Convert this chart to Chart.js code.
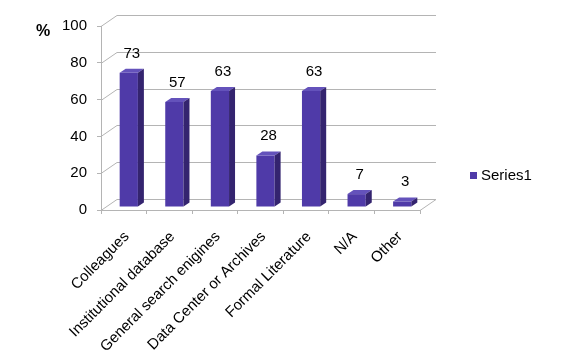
<!DOCTYPE html>
<html>
<head>
<meta charset="utf-8">
<script src="https://cdn.jsdelivr.net/npm/chart.js@4"></script>
<style>
    html, body { margin: 0; padding: 0; background: #fff; }
    #wrap { width: 570px; height: 355px; }
</style>
</head>
<body>
<div id="wrap"><canvas id="sourcesChart" width="570" height="355"></canvas></div>
<script>
// Chart data
const categories = ['Colleagues', 'Institutional database', 'General search enigines',
    'Data Center or Archives', 'Formal Literature', 'N/A', 'Other'];
const series1 = [73, 57, 63, 28, 63, 7, 3];
const seriesName = 'Series1';
const yTicks = [0, 20, 40, 60, 80, 100];

// 3D look
const wallDx = 16, wallDy = -11;   // back wall offset
const barDx = 5, barDy = -3;       // bars sit a bit behind the front edge
const faceDx = 6, faceDy = -4;     // bar depth
const frontColor = '#4f3aa8';
const topColor = '#6452bb';
const sideColor = '#34246f';
const gridColor = '#b4b4b4';
const fontFamily = '"Liberation Sans", Arial, sans-serif';

// Back wall, left wall and floor lines
const wallPlugin = {
    id: 'wall',
    beforeDatasetsDraw(chart) {
        const ctx = chart.ctx;
        const area = chart.chartArea;
        const y = chart.scales.y;
        ctx.save();
        ctx.strokeStyle = gridColor;
        ctx.lineWidth = 1;
        yTicks.forEach(function(v) {
            const py = Math.round(y.getPixelForValue(v)) + 0.5;
            ctx.beginPath();
            ctx.moveTo(area.left, py);
            ctx.lineTo(area.left + wallDx, py + wallDy);
            ctx.lineTo(area.right + wallDx, py + wallDy);
            ctx.stroke();
        });
        // floor right edge
        const py0 = Math.round(y.getPixelForValue(0)) + 0.5;
        ctx.beginPath();
        ctx.moveTo(area.right, py0);
        ctx.lineTo(area.right + wallDx, py0 + wallDy);
        ctx.stroke();
        ctx.restore();
    }
};

// Shift the bars, add top and side faces, value labels
const barsPlugin = {
    id: 'bars3d',
    beforeDatasetsDraw(chart) {
        chart.ctx.save();
        chart.ctx.translate(barDx, barDy);
    },
    afterDatasetsDraw(chart) {
        const ctx = chart.ctx;
        const meta = chart.getDatasetMeta(0);
        meta.data.forEach(function(bar, i) {
            const l = bar.x - bar.width / 2;
            const r = bar.x + bar.width / 2;
            const t = bar.y;
            const b = bar.base;
            // top face
            ctx.fillStyle = topColor;
            ctx.beginPath();
            ctx.moveTo(l, t);
            ctx.lineTo(l + faceDx, t + faceDy);
            ctx.lineTo(r + faceDx, t + faceDy);
            ctx.lineTo(r, t);
            ctx.closePath();
            ctx.fill();
            // side face
            ctx.fillStyle = sideColor;
            ctx.beginPath();
            ctx.moveTo(r, t);
            ctx.lineTo(r + faceDx, t + faceDy);
            ctx.lineTo(r + faceDx, b + faceDy);
            ctx.lineTo(r, b);
            ctx.closePath();
            ctx.fill();
            // value label
            ctx.fillStyle = '#000';
            ctx.font = '15px ' + fontFamily;
            ctx.textAlign = 'center';
            ctx.textBaseline = 'alphabetic';
            ctx.fillText(String(series1[i]), bar.x + faceDx / 2, t - 15);
        });
        ctx.restore();
    }
};

// "%" title and legend on the right
const extrasPlugin = {
    id: 'extras',
    afterDraw(chart) {
        const ctx = chart.ctx;
        ctx.save();
        ctx.fillStyle = '#000';
        ctx.font = 'bold 16px ' + fontFamily;
        ctx.textAlign = 'center';
        ctx.textBaseline = 'middle';
        ctx.fillText('%', 43, 32);

        ctx.fillStyle = frontColor;
        ctx.fillRect(470, 172, 7, 7);
        ctx.fillStyle = '#000';
        ctx.font = '15px ' + fontFamily;
        ctx.textAlign = 'left';
        ctx.fillText(seriesName, 481, 176);
        ctx.restore();
    }
};

new Chart(document.getElementById('sourcesChart'), {
    type: 'bar',
    data: {
        labels: categories,
        datasets: [{
            label: seriesName,
            data: series1,
            backgroundColor: frontColor,
            borderWidth: 0,
            barPercentage: 0.4,
            categoryPercentage: 1.0
        }]
    },
    options: {
        responsive: false,
        animation: false,
        devicePixelRatio: 1,
        layout: { padding: { top: 26, right: 150, left: 0, bottom: 0 } },
        plugins: {
            legend: { display: false },
            tooltip: { enabled: false }
        },
        scales: {
            x: {
                afterFit: function(scale) { scale.height = 145; },
                grid: {
                    display: true,
                    drawOnChartArea: false,
                    drawTicks: true,
                    tickLength: 4,
                    color: gridColor,
                    offset: true
                },
                border: { display: true, color: gridColor },
                ticks: {
                    minRotation: 45,
                    maxRotation: 45,
                    autoSkip: false,
                    padding: 14,
                    labelOffset: 3,
                    color: '#000',
                    font: { family: fontFamily, size: 15 }
                }
            },
            y: {
                min: 0,
                max: 100,
                afterFit: function(scale) { scale.width = 101; },
                grid: {
                    display: true,
                    drawOnChartArea: false,
                    drawTicks: true,
                    tickLength: 4,
                    color: gridColor
                },
                border: { display: true, color: gridColor },
                ticks: {
                    stepSize: 20,
                    padding: 10,
                    color: '#000',
                    font: { family: fontFamily, size: 15 }
                }
            }
        }
    },
    plugins: [wallPlugin, barsPlugin, extrasPlugin]
});
</script>
</body>
</html>
